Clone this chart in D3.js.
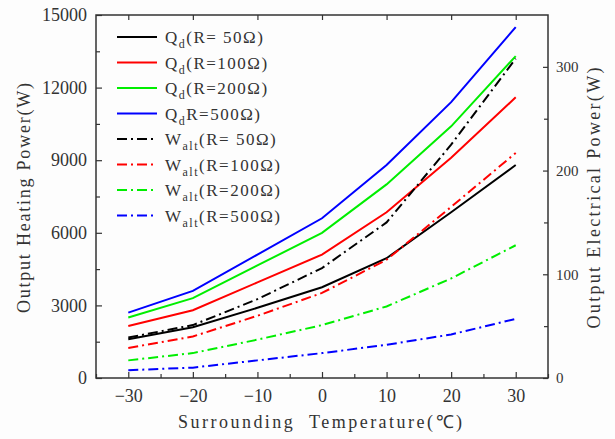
<!doctype html>
<html>
<head>
<meta charset="utf-8">
<script src="https://d3js.org/d3.v7.min.js"></script>
<style>
  body { margin: 0; background: #fdfdfd; }
  text { font-family: "Liberation Serif", "Times New Roman", serif; fill: #333; }
  .axis path { display: none; }
  .axis line { stroke: #333; stroke-width: 1.2; }
  .axis text { font-size: 18px; fill: #333; }
  .axis.right text { font-size: 15px; }
  .title { font-size: 18px; white-space: pre; }
  .legend text { font-size: 17px; letter-spacing: 1.5px; white-space: pre; }
</style>
</head>
<body>
<svg id="chart" width="615" height="439"></svg>
<script>
// surrounding temperature (C)
const temps = [-30, -20, -10, 0, 10, 20, 30];

// output heating power Qd (W), left axis
const qd50  = [1600, 2100, 2900, 3750, 4950, 6850, 8800];
const qd100 = [2150, 2800, 3950, 5100, 6850, 9100, 11600];
const qd200 = [2500, 3300, 4650, 6000, 8000, 10400, 13300];
const qd500 = [2700, 3600, 5100, 6600, 8800, 11400, 14500];

// output electrical power Walt (W), right axis
const walt50  = [39, 51, 76, 106, 150, 225, 308];
const walt100 = [29, 40, 60, 82, 114, 165, 217];
const walt200 = [17, 24, 37, 51, 69, 96, 128];
const walt500 = [7.5, 10, 17, 24, 32, 42, 57];

const leftTicks = [0, 3000, 6000, 9000, 12000, 15000];
const rightTicks = [0, 100, 200, 300];
const xTicks = [-30, -20, -10, 0, 10, 20, 30];

const svg = d3.select('#chart');
const L = 96, R = 548, T = 15, B = 378;

const x = d3.scaleLinear().domain([-35, 35]).range([L, R]);
const yL = d3.scaleLinear().domain([0, 15000]).range([B, T]);
const yR = d3.scaleLinear().domain([0, 350]).range([B, T]);

svg.append('rect').attr('width', 615).attr('height', 439).attr('fill', '#fdfdfd');

// minor ticks
svg.append('g').attr('class', 'axis').attr('transform', `translate(${L},0)`)
  .call(d3.axisLeft(yL).tickValues(d3.range(1500, 15000, 3000)).tickSize(-4).tickFormat(''));
svg.append('g').attr('class', 'axis').attr('transform', `translate(0,${B})`)
  .call(d3.axisBottom(x).tickValues([-35, -25, -15, -5, 5, 15, 25, 35]).tickSize(-4).tickFormat(''));
svg.append('g').attr('class', 'axis').attr('transform', `translate(${R},0)`)
  .call(d3.axisRight(yR).tickValues([50, 150, 250]).tickSize(-4).tickFormat(''));

// major ticks + labels
svg.append('g').attr('class', 'axis').attr('transform', `translate(${L},0)`)
  .call(d3.axisLeft(yL).tickValues(leftTicks).tickSize(-6).tickPadding(9).tickFormat(d3.format('d')));
svg.append('g').attr('class', 'axis').attr('transform', `translate(0,${B})`)
  .call(d3.axisBottom(x).tickValues(xTicks).tickSize(-6).tickPadding(11)
    .tickFormat(d => d < 0 ? '\u2212' + Math.abs(d) : d));
svg.append('g').attr('class', 'axis right').attr('transform', `translate(${R},0)`)
  .call(d3.axisRight(yR).tickValues(rightTicks).tickSize(-5).tickPadding(8).tickFormat(d3.format('d')));
svg.append('g').attr('class', 'axis').attr('transform', `translate(0,${T})`)
  .call(d3.axisTop(x).tickValues(xTicks).tickSize(-5).tickFormat(''));

// frame
svg.append('rect').attr('x', L).attr('y', T).attr('width', R - L).attr('height', B - T)
  .attr('fill', 'none').attr('stroke', '#333').attr('stroke-width', 1.5);

// series
const series = [
  {v: qd50,  c: '#000000', dash: null, s: yL, base: 'Q', sub: 'd',   rest: '(R= 50\u03A9)'},
  {v: qd100, c: '#ff0000', dash: null, s: yL, base: 'Q', sub: 'd',   rest: '(R=100\u03A9)'},
  {v: qd200, c: '#00ee00', dash: null, s: yL, base: 'Q', sub: 'd',   rest: '(R=200\u03A9)'},
  {v: qd500, c: '#0000ff', dash: null, s: yL, base: 'Q', sub: 'd',   rest: 'R=500\u03A9)'},
  {v: walt50,  c: '#000000', dash: '10,4,2,4', s: yR, base: 'W', sub: 'alt', rest: '(R= 50\u03A9)'},
  {v: walt100, c: '#ff0000', dash: '10,4,2,4', s: yR, base: 'W', sub: 'alt', rest: '(R=100\u03A9)'},
  {v: walt200, c: '#00ee00', dash: '10,4,2,4', s: yR, base: 'W', sub: 'alt', rest: '(R=200\u03A9)'},
  {v: walt500, c: '#0000ff', dash: '10,4,2,4', s: yR, base: 'W', sub: 'alt', rest: '(R=500\u03A9)'}
];

series.forEach(d => {
  const line = d3.line().x((t, i) => x(temps[i])).y(t => d.s(t));
  svg.append('path').datum(d.v)
    .attr('d', line)
    .attr('fill', 'none')
    .attr('stroke', d.c)
    .attr('stroke-width', 2)
    .attr('stroke-dasharray', d.dash);
});

// legend
const legend = svg.append('g').attr('class', 'legend');
series.forEach((d, i) => {
  const yy = 37 + i * 25.5;
  legend.append('line')
    .attr('x1', 117).attr('x2', 157).attr('y1', yy).attr('y2', yy)
    .attr('stroke', d.c).attr('stroke-width', 2)
    .attr('stroke-dasharray', d.dash ? '10,4,2,4' : null);
  const t = legend.append('text').attr('x', 165).attr('y', yy + 6);
  t.append('tspan').text(d.base);
  t.append('tspan').attr('dy', 5).style('font-size', '12px').text(d.sub);
  t.append('tspan').attr('dy', -5).text(d.rest);
});

// axis titles
svg.append('text').attr('class', 'title')
  .attr('transform', 'translate(30,198) rotate(-90)')
  .attr('text-anchor', 'middle')
  .attr('textLength', 230).attr('lengthAdjust', 'spacing')
  .text('Output Heating Power(W)');

svg.append('text').attr('class', 'title')
  .attr('transform', 'translate(600,198) rotate(-90)')
  .attr('text-anchor', 'middle')
  .attr('textLength', 261).attr('lengthAdjust', 'spacing')
  .text('Output Electrical Power(W)');

svg.append('text').attr('class', 'title')
  .attr('x', 320).attr('y', 428)
  .attr('text-anchor', 'middle')
  .attr('textLength', 284).attr('lengthAdjust', 'spacing')
  .text('Surrounding  Temperature(\u2103)');
</script>
</body>
</html>
